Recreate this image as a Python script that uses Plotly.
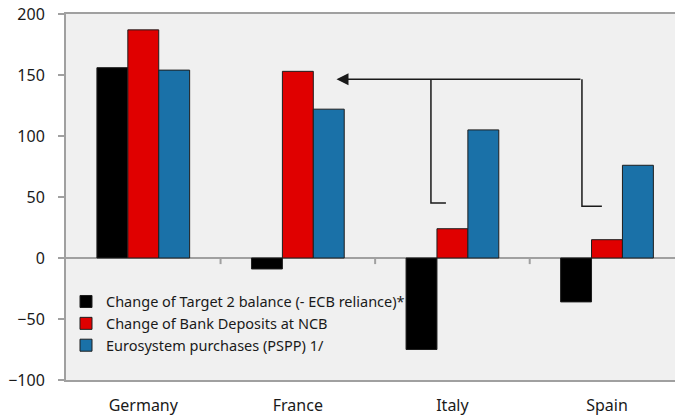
import plotly.graph_objects as go

# %% DATA
countries = ["Germany", "France", "Italy", "Spain"]
target2 = [156, -9, -75, -36]
deposits = [187, 153, 24, 15]
pspp = [154, 122, 105, 76]

series_names = ["Change of Target 2 balance (- ECB reliance)*",
                "Change of Bank Deposits at NCB",
                "Eurosystem purchases (PSPP) 1/"]
series_colors = ["#000000", "#e00000", "#1a71a8"]
y_ticks = [-100, -50, 0, 50, 100, 150, 200]

# %% FIGURE
fig = go.Figure()
for i, vals in enumerate([target2, deposits, pspp]):
    fig.add_trace(go.Bar(x=countries, y=vals, name=series_names[i], legendgroup=f"g{i}",
                         marker=dict(color=series_colors[i], line=dict(color="#1e1e1e", width=1))))

grey = "#a0a0a0"
fig.update_xaxes(type="category", range=[-0.5, 3.44], showline=True, mirror=True, linecolor=grey, linewidth=2,
                 ticks="", showgrid=False, tickfont=dict(size=16, color="#1a1a1a"), ticklabelstandoff=10)
fig.update_yaxes(range=[-100, 200], tickvals=y_ticks, showline=True, linecolor=grey, linewidth=2,
                 ticks="outside", ticklen=6, tickcolor=grey, tickwidth=2, showgrid=False,
                 zeroline=True, zerolinecolor=grey, zerolinewidth=2,
                 tickfont=dict(size=16, color="#1a1a1a"), ticklabelstandoff=10)

# small tick marks at category boundaries on the zero line
for b in [0.5, 1.5, 2.5]:
    fig.add_shape(type="line", xref="x", yref="y", x0=b, x1=b, y0=0, y1=-5, line=dict(color=grey, width=2))

# bracket lines pointing back to France
line_style = dict(color="#1a1a1a", width=1.5)
fig.add_shape(type="path", xref="x", yref="y", path="M 1.958 45 L 1.861 45 L 1.861 146.5", line=line_style)
fig.add_shape(type="path", xref="x", yref="y", path="M 2.967 42.5 L 2.838 42.5 L 2.838 146.5", line=line_style)
fig.add_annotation(x=1.25, y=146.5, ax=2.838, ay=146.5, xref="x", yref="y", axref="x", ayref="y",
                   text="", showarrow=True, arrowhead=2, arrowsize=1.6, arrowwidth=1.5, arrowcolor="#1a1a1a")

fig.update_layout(width=675, height=418, margin=dict(l=66, r=0, t=14, b=38),
                  paper_bgcolor="white", plot_bgcolor="#f0f0f0",
                  font=dict(family="Noto Sans", color="#1a1a1a"),
                  barmode="group", bargap=0.4, bargroupgap=0,
                  legend=dict(x=0.0, y=0.258, xanchor="left", yanchor="top", bgcolor="rgba(0,0,0,0)",
                              font=dict(size=14.5), tracegroupgap=12, traceorder="normal"),
                  showlegend=True)

# drop the default body margin so the figure sits at the window corner
fig.write_html("out.html", config={"displayModeBar": False},
               post_script="document.body.style.margin = '0px';")
